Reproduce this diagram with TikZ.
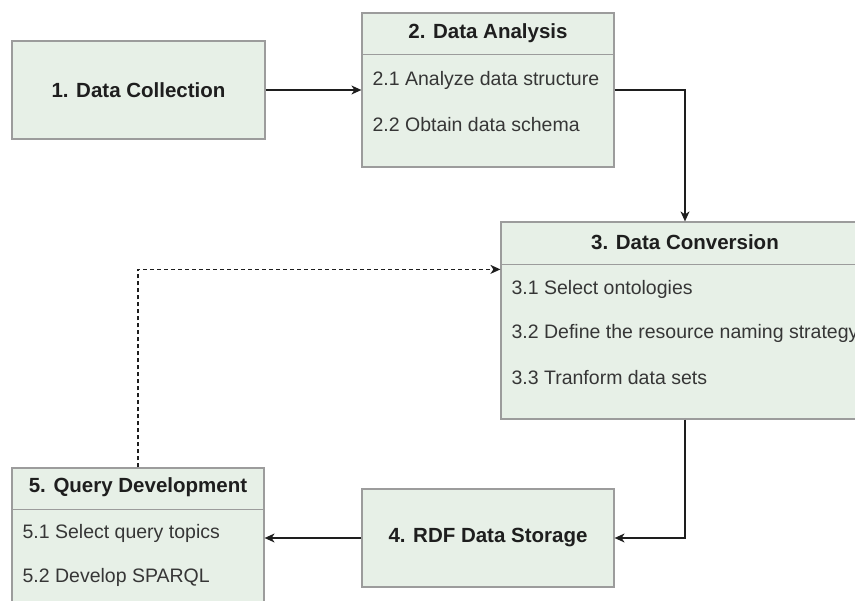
\documentclass[tikz,border=0pt]{standalone}
\usepackage{fontspec}
\setmainfont{Liberation Sans}
\usetikzlibrary{arrows.meta}
\definecolor{relleno}{HTML}{E7F0E7}
\definecolor{contorno}{HTML}{9C9C9C}
\definecolor{trazo}{HTML}{1E1E1E}
\definecolor{texto}{HTML}{363636}
\begin{document}
\begin{tikzpicture}[
    x=1pt,
    y=-1pt,
    >={Stealth[length=10pt,width=9pt,inset=3pt]},
    caja/.style={draw=contorno,fill=relleno,line width=1.2pt,inner sep=0pt},
    titulo/.style={font=\fontsize{20.5}{24}\selectfont\bfseries,text=trazo,inner sep=0pt},
    item/.style={font=\fontsize{19.5}{23}\selectfont,text=texto,anchor=west,inner sep=0pt},
    flujo/.style={trazo,line width=1.4pt,->},
    retorno/.style={flujo,dash pattern=on 4pt off 3pt}
]
    \useasboundingbox (0,0) rectangle (855,601);
    \clip (0,0) rectangle (855,601);

    % boxes
    \node[caja,minimum width=253,minimum height=98] (col) at (138.5,90) {};
    \node[titulo] (colT) at (col.center) {1. Data Collection};

    \node[caja,minimum width=252,minimum height=154] (ana) at (488,90) {};
    \node[titulo] (anaT) at ([yshift=-21]ana.north) {2. Data Analysis};
    \draw[draw=contorno,line width=1.2pt] ([yshift=-42]ana.north west) -- ([yshift=-42]ana.north east);
    \node[item] (ana1) at ([xshift=11,yshift=-68]ana.north west) {2.1 Analyze data structure};
    \node[item] (ana2) at ([xshift=11,yshift=-112]ana.north west) {2.2 Obtain data schema};

    \node[caja,minimum width=368,minimum height=197] (conv) at (685,320.5) {};
    \node[titulo] (convT) at ([yshift=-21]conv.north) {3. Data Conversion};
    \draw[draw=contorno,line width=1.2pt] ([yshift=-43]conv.north west) -- ([yshift=-43]conv.north east);
    \node[item] (conv1) at ([xshift=11,yshift=-68]conv.north west) {3.1 Select ontologies};
    \node[item] (conv2) at ([xshift=11,yshift=-112]conv.north west) {3.2 Define the resource naming strategy};
    \node[item] (conv3) at ([xshift=11,yshift=-156]conv.north west) {3.3 Tranform data sets};

    \node[caja,minimum width=252,minimum height=98] (sto) at (488,538) {};
    \node[titulo] (stoT) at (sto.center) {4. RDF Data Storage};

    \node[caja,minimum width=252,minimum height=152] (qry) at (138,544) {};
    \node[titulo] (qryT) at ([yshift=-20]qry.north) {5. Query Development};
    \draw[draw=contorno,line width=1.2pt] ([yshift=-42]qry.north west) -- ([yshift=-42]qry.north east);
    \node[item] (qry1) at ([xshift=11,yshift=-66]qry.north west) {5.1 Select query topics};
    \node[item] (qry2) at ([xshift=11,yshift=-110]qry.north west) {5.2 Develop SPARQL};

    % connectors
    \coordinate (convin) at ([yshift=-48]conv.north west);
    \draw[flujo] (col.east) -- (ana.west);
    \draw[flujo] (ana.east) -| (conv.north);
    \draw[flujo] (conv.south) |- (sto.east);
    \draw[flujo] (sto.west) -- (sto.west -| qry.east);
    \draw[retorno] (qry.north) |- (convin);
\end{tikzpicture}
\end{document}
